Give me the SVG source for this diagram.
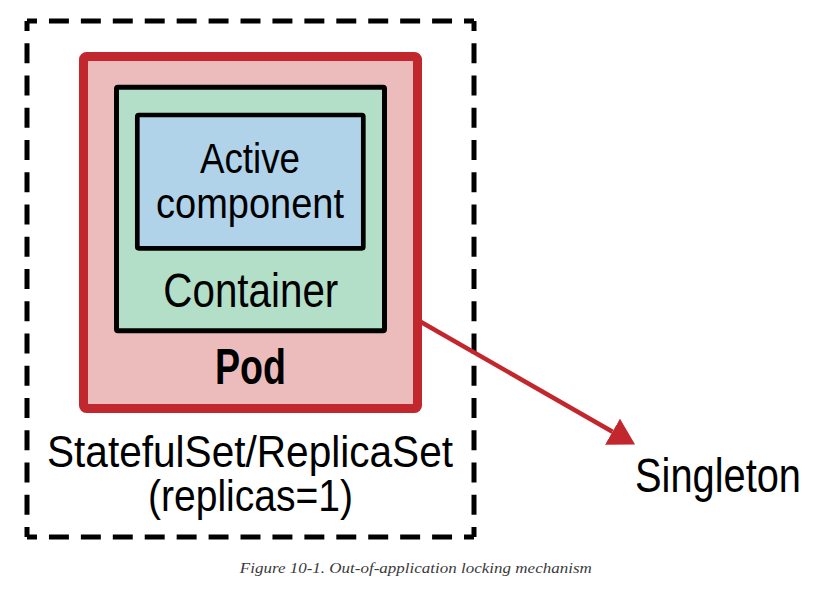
<svg xmlns="http://www.w3.org/2000/svg" width="825" height="601" viewBox="0 0 825 601">
  <style>
    .lbl { font-family: "Liberation Sans", Arial, sans-serif; fill: #000; text-anchor: middle; }
    .dash { fill: none; stroke: #000; stroke-width: 5; stroke-dasharray: 20 12; stroke-dashoffset: 10; }
    .cap { font-family: "Liberation Serif", "Times New Roman", serif; font-style: italic; fill: #3a3a3a; text-anchor: middle; font-size: 15.5px; }
  </style>
  <defs>
    <marker id="arrowRed" markerUnits="userSpaceOnUse" viewBox="0 0 26 30" refX="0" refY="15" markerWidth="26" markerHeight="30" orient="auto">
      <path d="M0,0 L26,15 L0,30 Z" fill="#c1272d"/>
    </marker>
  </defs>
  <rect width="825" height="601" fill="#fff"/>

  <g id="statefulset">
    <path class="dash" d="M27,21 H474" pathLength="448"/>
    <path class="dash" d="M27,537 H474" pathLength="448"/>
    <path class="dash" d="M27,21 V537" pathLength="512"/>
    <path class="dash" d="M474,21 V537" pathLength="512"/>
    <text class="lbl" x="250" y="466.7" font-size="45" textLength="406" lengthAdjust="spacingAndGlyphs">StatefulSet/ReplicaSet</text>
    <text class="lbl" x="250.5" y="510.5" font-size="44" textLength="205" lengthAdjust="spacingAndGlyphs">(replicas=1)</text>
  </g>

  <g id="pod">
    <rect x="83.5" y="56.5" width="334" height="352" rx="3" fill="#ecbcbd" stroke="#c1272d" stroke-width="9"/>
    <text class="lbl" x="250.5" y="384" font-size="50" font-weight="bold" textLength="71" lengthAdjust="spacingAndGlyphs">Pod</text>
  </g>

  <g id="container">
    <rect x="116.5" y="87.2" width="268" height="243.6" rx="1.5" fill="#b3dfc8" stroke="#000" stroke-width="5"/>
    <text class="lbl" x="250.8" y="306.7" font-size="49" textLength="175" lengthAdjust="spacingAndGlyphs">Container</text>
  </g>

  <g id="active-component">
    <rect x="137.3" y="115" width="226" height="133.3" rx="1.5" fill="#b1d3ea" stroke="#000" stroke-width="4.7"/>
    <text class="lbl" x="250" y="172.7" font-size="42" textLength="100" lengthAdjust="spacingAndGlyphs">Active</text>
    <text class="lbl" x="250" y="217.5" font-size="42" textLength="188" lengthAdjust="spacingAndGlyphs">component</text>
  </g>

  <g id="singleton">
    <text class="lbl" x="718" y="491.7" font-size="49" textLength="166" lengthAdjust="spacingAndGlyphs">Singleton</text>
  </g>

  <g id="connectors">
    <line x1="421" y1="322" x2="612.5" y2="431.7" stroke="#c1272d" stroke-width="4.5" marker-end="url(#arrowRed)"/>
  </g>

  <text class="cap" x="415.8" y="572.7" textLength="352" lengthAdjust="spacingAndGlyphs">Figure 10-1. Out-of-application locking mechanism</text>
</svg>
